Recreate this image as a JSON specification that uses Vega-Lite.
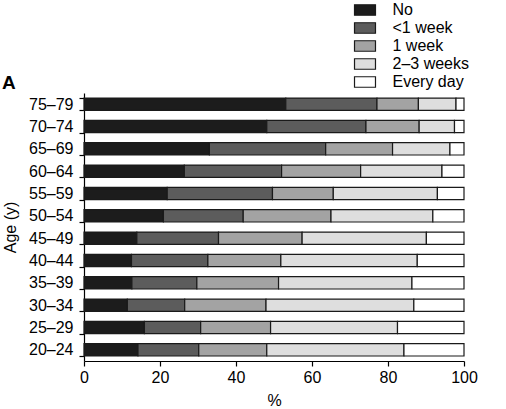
{
  "$schema": "https://vega.github.io/schema/vega-lite/v6.json",
  "width": 380,
  "height": 268,
  "autosize": {"type": "none"},
  "padding": {"left": 84, "top": 93, "right": 42, "bottom": 48},
  "background": "white",
  "title": {"text": "A", "anchor": "start", "frame": "group", "dx": -82, "dy": 98, "fontSize": 19, "fontWeight": "bold", "font": "Liberation Sans", "color": "black", "offset": 7},
  "config": {
    "view": {"stroke": null},
    "font": "Liberation Sans",
    "axis": {"domainColor": "black", "tickColor": "black", "labelColor": "black", "titleColor": "black", "labelFontSize": 16, "titleFontSize": 16, "titleFontWeight": "normal", "tickSize": 5, "domainWidth": 1.2, "tickWidth": 1.2, "grid": false, "labelFont": "Liberation Sans", "titleFont": "Liberation Sans"},
    "legend": {"labelFont": "Liberation Sans"}
  },
  "data": {"values": [
    {"age": "75–79", "resp": "No", "pct": 53.1}, {"age": "75–79", "resp": "<1 week", "pct": 24.0}, {"age": "75–79", "resp": "1 week", "pct": 10.9}, {"age": "75–79", "resp": "2–3 weeks", "pct": 9.9}, {"age": "75–79", "resp": "Every day", "pct": 2.1},
    {"age": "70–74", "resp": "No", "pct": 48.1}, {"age": "70–74", "resp": "<1 week", "pct": 26.1}, {"age": "70–74", "resp": "1 week", "pct": 14.0}, {"age": "70–74", "resp": "2–3 weeks", "pct": 9.3}, {"age": "70–74", "resp": "Every day", "pct": 2.5},
    {"age": "65–69", "resp": "No", "pct": 33.0}, {"age": "65–69", "resp": "<1 week", "pct": 30.6}, {"age": "65–69", "resp": "1 week", "pct": 17.6}, {"age": "65–69", "resp": "2–3 weeks", "pct": 15.1}, {"age": "65–69", "resp": "Every day", "pct": 3.7},
    {"age": "60–64", "resp": "No", "pct": 26.4}, {"age": "60–64", "resp": "<1 week", "pct": 25.6}, {"age": "60–64", "resp": "1 week", "pct": 20.8}, {"age": "60–64", "resp": "2–3 weeks", "pct": 21.4}, {"age": "60–64", "resp": "Every day", "pct": 5.8},
    {"age": "55–59", "resp": "No", "pct": 21.9}, {"age": "55–59", "resp": "<1 week", "pct": 27.7}, {"age": "55–59", "resp": "1 week", "pct": 16.0}, {"age": "55–59", "resp": "2–3 weeks", "pct": 27.4}, {"age": "55–59", "resp": "Every day", "pct": 7.0},
    {"age": "50–54", "resp": "No", "pct": 20.9}, {"age": "50–54", "resp": "<1 week", "pct": 21.0}, {"age": "50–54", "resp": "1 week", "pct": 23.1}, {"age": "50–54", "resp": "2–3 weeks", "pct": 26.8}, {"age": "50–54", "resp": "Every day", "pct": 8.2},
    {"age": "45–49", "resp": "No", "pct": 13.9}, {"age": "45–49", "resp": "<1 week", "pct": 21.5}, {"age": "45–49", "resp": "1 week", "pct": 22.0}, {"age": "45–49", "resp": "2–3 weeks", "pct": 32.7}, {"age": "45–49", "resp": "Every day", "pct": 9.9},
    {"age": "40–44", "resp": "No", "pct": 12.5}, {"age": "40–44", "resp": "<1 week", "pct": 20.1}, {"age": "40–44", "resp": "1 week", "pct": 19.2}, {"age": "40–44", "resp": "2–3 weeks", "pct": 35.9}, {"age": "40–44", "resp": "Every day", "pct": 12.3},
    {"age": "35–39", "resp": "No", "pct": 12.6}, {"age": "35–39", "resp": "<1 week", "pct": 17.1}, {"age": "35–39", "resp": "1 week", "pct": 21.5}, {"age": "35–39", "resp": "2–3 weeks", "pct": 35.1}, {"age": "35–39", "resp": "Every day", "pct": 13.7},
    {"age": "30–34", "resp": "No", "pct": 11.4}, {"age": "30–34", "resp": "<1 week", "pct": 15.1}, {"age": "30–34", "resp": "1 week", "pct": 21.4}, {"age": "30–34", "resp": "2–3 weeks", "pct": 38.9}, {"age": "30–34", "resp": "Every day", "pct": 13.2},
    {"age": "25–29", "resp": "No", "pct": 15.9}, {"age": "25–29", "resp": "<1 week", "pct": 14.8}, {"age": "25–29", "resp": "1 week", "pct": 18.4}, {"age": "25–29", "resp": "2–3 weeks", "pct": 33.4}, {"age": "25–29", "resp": "Every day", "pct": 17.5},
    {"age": "20–24", "resp": "No", "pct": 14.2}, {"age": "20–24", "resp": "<1 week", "pct": 16.0}, {"age": "20–24", "resp": "1 week", "pct": 17.9}, {"age": "20–24", "resp": "2–3 weeks", "pct": 36.1}, {"age": "20–24", "resp": "Every day", "pct": 15.8}
  ]},
  "transform": [
    {"calculate": "indexof(['No', '<1 week', '1 week', '2–3 weeks', 'Every day'], datum.resp)", "as": "rank"}
  ],
  "mark": {"type": "bar", "stroke": "#1a1a1a", "strokeWidth": 1.2},
  "encoding": {
    "y": {
      "field": "age", "type": "nominal",
      "sort": ["75–79", "70–74", "65–69", "60–64", "55–59", "50–54", "45–49", "40–44", "35–39", "30–34", "25–29", "20–24"],
      "scale": {"paddingInner": 0.45, "paddingOuter": 0.225},
      "axis": {"title": "Age (y)", "tickBand": "extent", "labelPadding": 6, "titlePadding": 10}
    },
    "x": {
      "field": "pct", "type": "quantitative", "stack": "zero",
      "scale": {"domain": [0, 100], "nice": false},
      "axis": {"title": "%", "values": [0, 20, 40, 60, 80, 100], "labelPadding": 3, "titlePadding": 7, "labelFlush": false}
    },
    "order": {"field": "rank", "type": "quantitative", "sort": "ascending"},
    "color": {
      "field": "resp", "type": "nominal",
      "sort": ["No", "<1 week", "1 week", "2–3 weeks", "Every day"],
      "scale": {"domain": ["No", "<1 week", "1 week", "2–3 weeks", "Every day"], "range": ["#1c1c1c", "#5c5c5c", "#a3a3a3", "#dedede", "#ffffff"]},
      "legend": {"orient": "none", "legendX": 273, "legendY": -91, "title": null, "symbolType": "M-2,-1H2V1H-2Z", "symbolSize": 110, "symbolStrokeColor": "#1a1a1a", "symbolStrokeWidth": 1.2, "symbolOpacity": 1, "labelFontSize": 16, "labelColor": "black", "labelOffset": 19.5, "rowPadding": 2, "padding": 0}
    }
  }
}
